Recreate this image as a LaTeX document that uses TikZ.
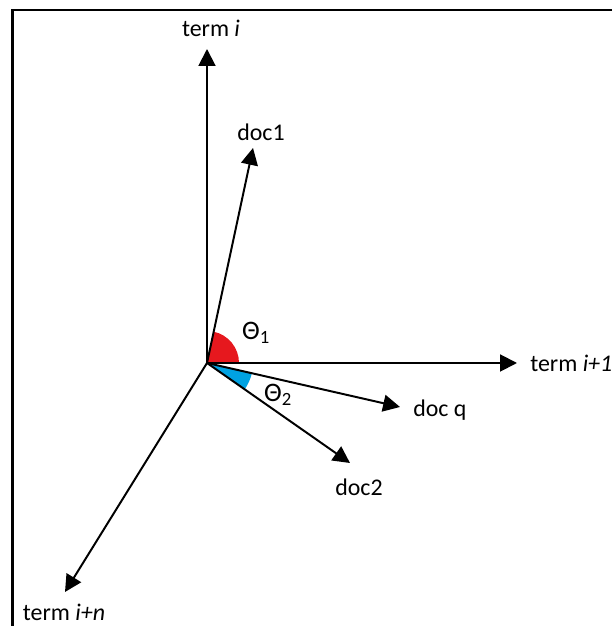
\documentclass[tikz,border=0pt]{standalone}
\usepackage{fontspec}
\setmainfont{Carlito}
\usetikzlibrary{arrows.meta}
\definecolor{thetared}{RGB}{230,24,30}
\definecolor{thetablue}{RGB}{0,162,226}
\begin{document}
\begin{tikzpicture}[
    vec/.style={-{Triangle[length=12pt, width=12pt]}, line width=1.4pt},
    lbl/.style={font=\fontsize{17}{20}\selectfont, inner sep=0pt},
    frame/.style={line width=1.6pt}
]
\useasboundingbox (0,0) rectangle (15.3,15.65);

% Frame (top and left edge)
\coordinate (ftl) at (0.3125,15.4);
\coordinate (ftr) at (15.3,15.4);
\coordinate (fbl) at (0.3125,0);
\draw[frame] (ftr) -- (ftl) -- (fbl);

% Origin and vector tips
\coordinate (o) at (5.175,6.575);
\coordinate (termi) at (5.175,14.425);
\coordinate (doca) at (6.325,11.95);
\coordinate (termnext) at (12.925,6.575);
\coordinate (docq) at (10.0,5.475);
\coordinate (docb) at (8.75,4.075);
\coordinate (termlast) at (1.625,0.85);

% Angles
\fill[thetared] (o) -- ++(0:0.8) arc[start angle=0, end angle=78, radius=0.8] -- cycle;
\fill[thetablue] (o) -- ++(-35:1.15) arc[start angle=-35, end angle=-12.8, radius=1.15] -- cycle;

% Vectors
\draw[vec] (o) -- (termi);
\draw[vec] (o) -- (doca);
\draw[vec] (o) -- (termnext);
\draw[vec] (o) -- (docq);
\draw[vec] (o) -- (docb);
\draw[vec] (o) -- (termlast);

% Labels
\node[lbl] (termilbl) at (5.275,14.95) {term \textit{i}};
\node[lbl] (docalbl) at (6.525,12.35) {doc1};
\node[lbl, anchor=west] (termnextlbl) at (13.25,6.575) {term \textit{i+1}};
\node[lbl, anchor=west] (docqlbl) at (10.325,5.4) {doc q};
\node[lbl] (docblbl) at (8.975,3.475) {doc2};
\node[lbl] (termlastlbl) at (1.6,0.34) {term \textit{i+n}};
\node[lbl, font=\fontsize{19}{22}\selectfont] (thetaa) at (6.4,7.325) {Θ\textsubscript{1}};
\node[lbl, font=\fontsize{19}{22}\selectfont] (thetab) at (6.95,5.775) {Θ\textsubscript{2}};

\end{tikzpicture}
\end{document}
